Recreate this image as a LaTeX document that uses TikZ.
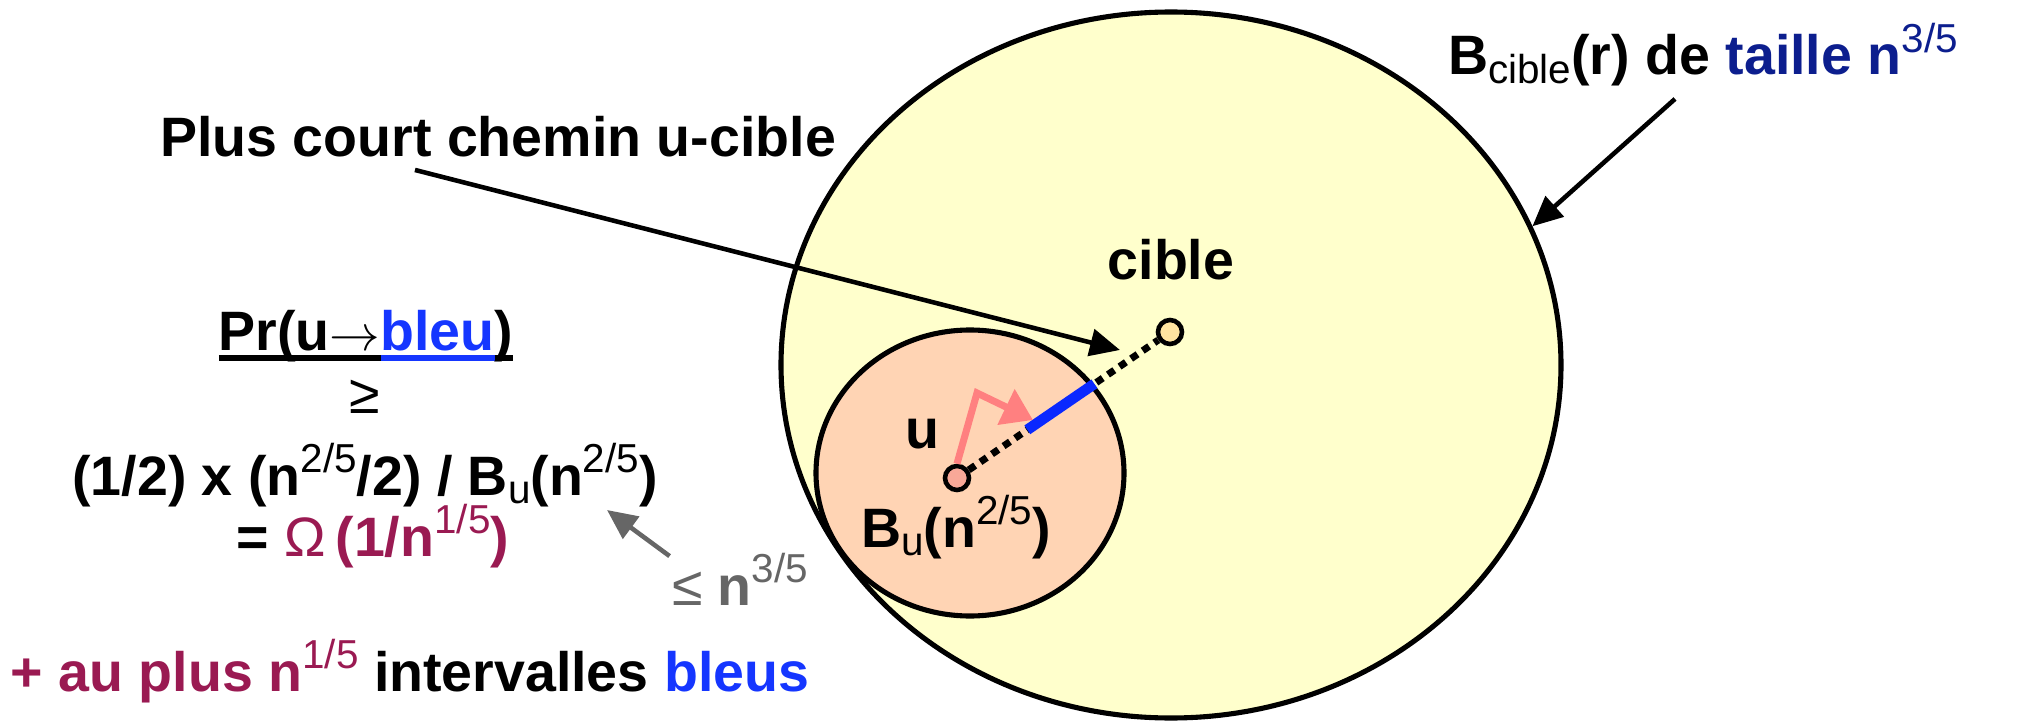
\documentclass[tikz,border=0pt]{standalone}
\usepackage{fontspec}
\setmainfont{Liberation Sans}
\usetikzlibrary{arrows.meta,shapes.geometric,calc}
\definecolor{bleu}{HTML}{1536FF}
\definecolor{marine}{HTML}{0C1E8E}
\definecolor{prune}{HTML}{9A1A52}
\definecolor{gris}{HTML}{666666}
\definecolor{jaune}{HTML}{FFFFCC}
\definecolor{peche}{HTML}{FFD4B4}
\definecolor{saumon}{HTML}{F8A898}
\definecolor{creme}{HTML}{FFE4A0}
\definecolor{rose}{HTML}{FF8080}
\definecolor{trait}{HTML}{0A28FF}
\newcommand{\sps}[1]{\raisebox{0.40em}{\fontsize{11.5}{13}\selectfont\mdseries #1}}
\newcommand{\sbs}[1]{\raisebox{-0.15em}{\fontsize{11.5}{13}\selectfont\mdseries #1}}
\newcommand{\ulpart}[1]{\setbox0\hbox{#1}\rlap{\rule[-0.19em]{\wd0}{1.5pt}}\box0}
\begin{document}
\begin{tikzpicture}[every node/.style={font=\fontsize{15.8}{19}\selectfont\bfseries},
  boule/.style={draw,ellipse,line width=1.45pt,inner sep=0pt},
  point/.style={draw,circle,line width=1.3pt,minimum size=0.24cm,inner sep=0pt},
  fleche/.style={-{Triangle[length=0.3cm,width=0.27cm]},line width=1.3pt}]
\useasboundingbox (0,0) rectangle (20.17,7.21);
% boules
\node[boule,fill=jaune,minimum width=7.80cm,minimum height=7.06cm] (bcible) at (11.71,3.56) {};
\node[boule,fill=peche,minimum width=3.08cm,minimum height=2.86cm] (bu) at (9.70,2.48) {};
\node[point,fill=saumon] (u) at (9.57,2.43) {};
\node[point,fill=creme] (cible) at (11.70,3.89) {};
% chemin u-cible
\coordinate (b1) at ($(u)!0.33!(cible)$);
\coordinate (b2) at ($(u)!0.645!(cible)$);
\coordinate (coude) at (9.77,3.28);
\coordinate (arrivee) at (10.33,3.01);
\draw[line width=2pt,dash pattern=on 2.2pt off 1.8pt] (u) -- (cible);
\draw[trait,line width=3pt] (b1) -- (b2);
\draw[rose,line width=2pt,-{Triangle[length=0.3cm,width=0.38cm]}] (u.north) -- (coude) -- (arrivee);
\node[anchor=base] (lu) at (9.22,2.73) {u};
\node[anchor=base] (lbu) at (9.56,1.74) {B\sbs{u}(n\sps{2/5})};
\node[anchor=base] (lcible) at (11.71,4.41) {cible};
% legendes
\node[anchor=base] (chemin) at (4.98,5.64) {Plus court chemin u-cible};
\coordinate (pcc) at (11.20,3.71);
\draw[fleche] ([xshift=-0.83cm]chemin.south) -- (pcc);
\node[anchor=base] (titre) at (17.03,6.46) {B\sbs{cible}(r) de \textcolor{marine}{taille n\sps{3/5}}};
\draw[fleche] ([xshift=-0.28cm]titre.south) -- (bcible.21);
% calcul
\node[anchor=base] (proba) at (3.66,3.71) {\ulpart{Pr(u$\rightarrow$}\textcolor{bleu}{\ulpart{bleu}}\ulpart{)}};
\node[anchor=base,font=\fontsize{15.8}{19}\selectfont\mdseries] (geq) at (3.65,3.08) {≥};
\node[anchor=base] (borne) at (3.65,2.26) {(1/2) x (n\sps{2/5}/2) / B\sbs{u}(n\sps{2/5})};
\node[anchor=base] (omega) at (3.73,1.65) {= \textcolor{prune}{{\mdseries Ω}\,(1/n\sps{1/5})}};
\node[anchor=base,text=gris] (taille) at (7.40,1.16) {{\mdseries ≤} n\sps{3/5}};
\coordinate (vers) at (6.07,2.11);
\draw[fleche,gris] ($(taille.north west)+(0.1,-0.15)$) -- (vers);
\node[anchor=base] (plus) at (4.10,0.30) {\textcolor{prune}{+ au plus n\sps{1/5}} intervalles \textcolor{bleu}{bleus}};
\end{tikzpicture}
\end{document}
